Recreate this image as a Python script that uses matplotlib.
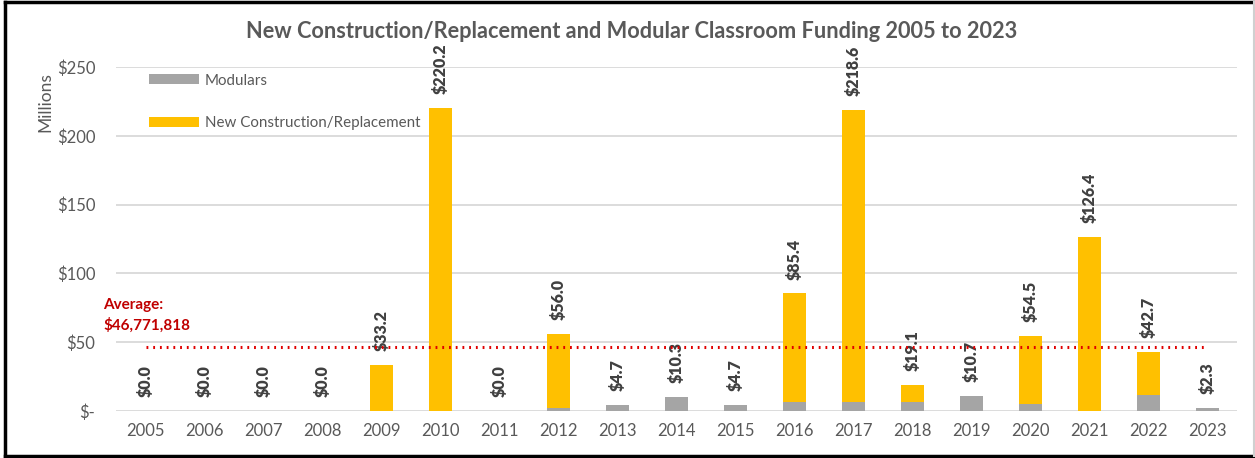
import numpy as np
import matplotlib
matplotlib.use("Agg")
import matplotlib.pyplot as plt
from matplotlib.lines import Line2D

plt.rcParams['font.family'] = ['Lato', 'DejaVu Sans']

# Data (millions of dollars)
years = ["2005", "2006", "2007", "2008", "2009", "2010", "2011", "2012", "2013", "2014",
         "2015", "2016", "2017", "2018", "2019", "2020", "2021", "2022", "2023"]
totals = [0.0, 0.0, 0.0, 0.0, 33.2, 220.2, 0.0, 56.0, 4.7, 10.3,
          4.7, 85.4, 218.6, 19.1, 10.7, 54.5, 126.4, 42.7, 2.3]
modulars = [0.0, 0.0, 0.0, 0.0, 0.0, 0.0, 0.0, 2.2, 4.7, 10.3,
            4.7, 6.5, 6.5, 6.5, 10.7, 5.3, 0.0, 11.6, 2.3]
average = 46771818 / 1e6

new_constr = [t - m for t, m in zip(totals, modulars)]

gray_txt = "#595959"
x = np.arange(len(years))

fig = plt.figure(figsize=(12.55, 4.58), dpi=100)
ax = fig.add_axes([116/1255, 1 - 411/458, (1237-116)/1255, (411-67)/458])

ax.bar(x, modulars, width=0.4, color="#A5A5A5", label="Modulars", zorder=2)
ax.bar(x, new_constr, width=0.4, bottom=modulars, color="#FFC000",
       label="New Construction/Replacement", zorder=2)

# data labels
for xi, t in zip(x, totals):
    ax.annotate("$%.1f" % t, (xi, t), xytext=(0, 10), textcoords="offset points",
                rotation=90, ha="center", va="bottom", fontsize=11.5,
                fontweight="heavy", color="#404040", annotation_clip=False)

# average line
ax.plot([x[0], x[-1]], [average, average], color="#E00000", lw=2.2,
        linestyle=(0, (0.6, 1.6)), zorder=3)
fig.text(103/1255, 1 - 305/458, "Average:", color="#C00000", fontsize=11,
         fontweight="bold", va="center", ha="left")
fig.text(103/1255, 1 - 325/458, "$46,771,818", color="#C00000", fontsize=11,
         fontweight="bold", va="center", ha="left")

ax.set_xlim(-0.5, len(years) - 0.5)
ax.set_ylim(0, 250)
ax.set_yticks([0, 50, 100, 150, 200, 250])
ax.set_yticklabels(["$-", "$50", "$100", "$150", "$200", "$250"])
ax.set_xticks(x)
ax.set_xticklabels(years)
ax.tick_params(axis="both", length=0, labelsize=12, colors=gray_txt)
ax.tick_params(axis="y", pad=15)
ax.tick_params(axis="x", pad=9)
ax.yaxis.grid(True, color="#D9D9D9", lw=1.3, zorder=0)
ax.set_axisbelow(True)
for sp in ax.spines.values():
    sp.set_visible(False)

fig.text(45/1255, 1 - 102/458, "Millions", rotation=90, fontsize=12.5,
         color=gray_txt, ha="center", va="center")

fig.text(632/1255, 1 - 31/458,
         "New Construction/Replacement and Modular Classroom Funding 2005 to 2023",
         fontsize=15.7, fontweight="bold", color=gray_txt, ha="center", va="center")

handles, labels = ax.get_legend_handles_labels()
leg = ax.legend(handles, labels, loc="upper left", bbox_to_anchor=(135/1255, 1 - 60/458),
                bbox_transform=fig.transFigure, frameon=False, fontsize=10.9,
                labelspacing=1.9, handlelength=3.3, handleheight=0.6,
                handletextpad=0.4)
for t in leg.get_texts():
    t.set_color(gray_txt)

# outer frame
fig.add_artist(Line2D([5/1255, 5/1255], [0.004, 0.996], color="black", lw=2.5,
                      transform=fig.transFigure))
fig.add_artist(Line2D([5/1255, 1], [0.996, 0.996], color="black", lw=2.5,
                      transform=fig.transFigure))
fig.add_artist(Line2D([5/1255, 1], [0.004, 0.004], color="black", lw=2.5,
                      transform=fig.transFigure))
fig.add_artist(Line2D([1254/1255, 1254/1255], [0.004, 0.996], color="#D0D0D0", lw=1.5,
                      transform=fig.transFigure))

fig.savefig("out.png", dpi=100)
